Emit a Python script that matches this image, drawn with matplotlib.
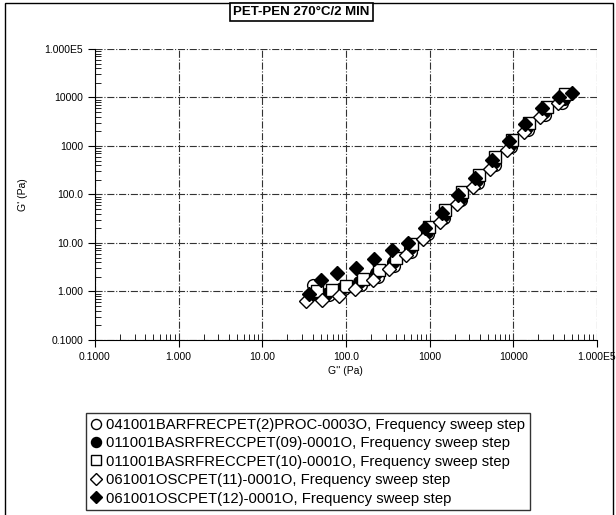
import matplotlib
matplotlib.use("Agg")
import matplotlib.pyplot as plt
from matplotlib.ticker import FixedLocator, LogLocator, NullFormatter
from matplotlib.patches import Rectangle

plt.rcParams['font.family'] = ['Liberation Sans', 'DejaVu Sans']

title = "PET-PEN 270°C/2 MIN"
x_label = "G'' (Pa)"
y_label = "G' (Pa)"
tick_values = [0.1, 1, 10, 100, 1000, 10000, 100000]
tick_labels = ["0.1000", "1.000", "10.00", "100.0", "1000", "10000", "1.000E5"]

names = [
    "041001BARFRECPET(2)PROC-0003O, Frequency sweep step",
    "011001BASRFRECCPET(09)-0001O, Frequency sweep step",
    "011001BASRFRECCPET(10)-0001O, Frequency sweep step",
    "061001OSCPET(11)-0001O, Frequency sweep step",
    "061001OSCPET(12)-0001O, Frequency sweep step",
]

s1_x = [40, 62, 95, 150, 240, 380, 600, 950, 1500, 2400, 3800, 6000, 9500, 15000, 24000, 38000]
s1_y = [1.35, 0.85, 1.1, 1.35, 2.0, 3.3, 6.5, 15, 32, 75, 170, 400, 950, 2100, 4300, 7800]

s2_x = [38, 58, 90, 145, 230, 370, 590, 930, 1480, 2350, 3700, 5900, 9300, 14800, 23500, 40000]
s2_y = [0.85, 0.9, 1.2, 1.6, 2.4, 4.0, 7.8, 17, 38, 85, 200, 460, 1100, 2500, 5000, 9500]

s3_x = [45, 68, 100, 160, 250, 400, 620, 980, 1550, 2450, 3900, 6100, 9700, 15500, 25000, 42000]
s3_y = [1.0, 1.05, 1.3, 1.8, 2.8, 4.8, 9.5, 21, 48, 110, 250, 580, 1350, 3000, 6200, 11500]

s4_x = [33, 52, 82, 130, 210, 330, 530, 840, 1330, 2100, 3350, 5300, 8400, 13300, 21000, 34000]
s4_y = [0.62, 0.65, 0.8, 1.1, 1.7, 2.9, 5.6, 12, 27, 62, 145, 340, 820, 1900, 4000, 7500]

s5_x = [36, 50, 79, 133, 218, 357, 560, 880, 1400, 2200, 3500, 5600, 8800, 14000, 22000, 35000, 50000]
s5_y = [0.9, 1.7, 2.35, 3.1, 4.6, 7.0, 10, 20, 42, 95, 220, 520, 1250, 2800, 6000, 10000, 12500]

series_x = [s1_x, s2_x, s3_x, s4_x, s5_x]
series_y = [s1_y, s2_y, s3_y, s4_y, s5_y]
markers = ['o', 'o', 's', 'D', 'D']
faces = ['white', 'black', 'white', 'white', 'black']
sizes = [8.5, 8.5, 8.5, 7, 7]

fig = plt.figure(figsize=(6.16, 5.15), dpi=100)
ax = fig.add_axes([0.154, 0.340, 0.815, 0.565])

for xs, ys, m, fc, ms, nm in zip(series_x, series_y, markers, faces, sizes, names):
    ax.plot(xs, ys, linestyle='none', marker=m, markersize=ms,
            markerfacecolor=fc, markeredgecolor='black', markeredgewidth=1.0,
            label=nm)

ax.set_xscale('log')
ax.set_yscale('log')
ax.set_xlim(0.1, 100000)
ax.set_ylim(0.1, 100000)
ax.xaxis.set_major_locator(FixedLocator(tick_values))
ax.yaxis.set_major_locator(FixedLocator(tick_values))
ax.set_xticklabels(tick_labels)
ax.set_yticklabels(tick_labels)
ax.xaxis.set_minor_locator(LogLocator(base=10, subs=range(2, 10), numticks=20))
ax.yaxis.set_minor_locator(LogLocator(base=10, subs=range(2, 10), numticks=20))
ax.xaxis.set_minor_formatter(NullFormatter())
ax.yaxis.set_minor_formatter(NullFormatter())
ax.tick_params(axis='both', which='major', direction='out', length=5, width=0.8,
               labelsize=7.5, color='black')
ax.tick_params(axis='both', which='minor', direction='in', length=4, width=0.6, color='black')

ax.grid(True, which='major', linestyle='-.', linewidth=0.8, color='#333333')
ax.set_axisbelow(True)
for side in ['top', 'right']:
    ax.spines[side].set_visible(False)
ax.spines['left'].set_linewidth(0.8)
ax.spines['bottom'].set_linewidth(0.8)

ax.set_xlabel(x_label, fontsize=7.5, labelpad=3)
ax.set_ylabel(y_label, fontsize=7.5, labelpad=12)

fig.text(0.489, 0.977, title, ha='center', va='center', fontsize=9.5, fontweight='bold',
         bbox=dict(boxstyle='square,pad=0.25', facecolor='white', edgecolor='black', linewidth=1.2))

fig.patches.append(Rectangle((0.008, -0.01), 0.987, 1.005, transform=fig.transFigure,
                             fill=False, edgecolor='black', linewidth=1.0))

leg = fig.legend(loc='upper left', bbox_to_anchor=(0.127, 0.212), fontsize=10.7,
                 frameon=True, fancybox=False, edgecolor='black', handlelength=0.8,
                 handletextpad=0.3, labelspacing=0.3, borderpad=0.3, markerscale=0.85)
leg.get_frame().set_linewidth(1.0)

fig.savefig('out.png', dpi=100)
